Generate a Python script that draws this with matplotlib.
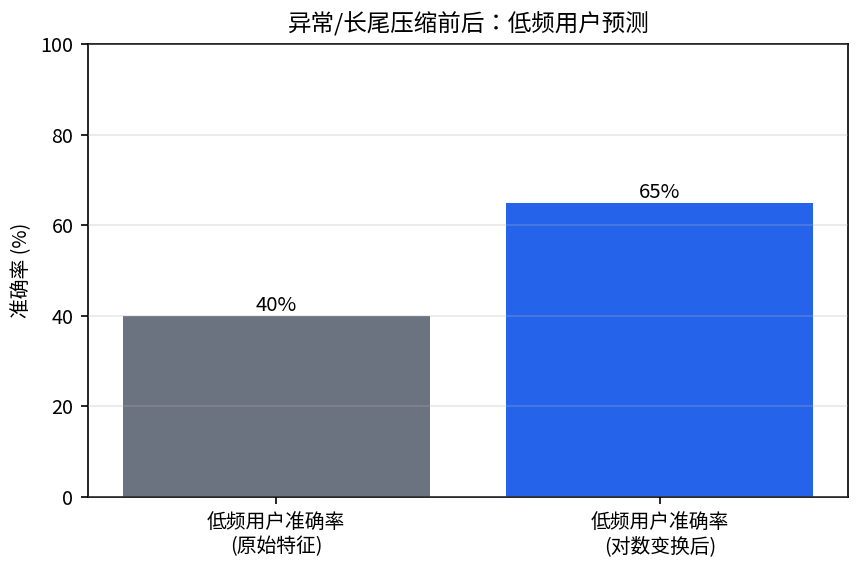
import matplotlib
matplotlib.use("Agg")
import matplotlib.pyplot as plt

plt.rcParams['font.family'] = ['Noto Sans CJK JP', 'DejaVu Sans']

categories = ['低频用户准确率\n(原始特征)', '低频用户准确率\n(对数变换后)']
values = [40, 65]
colors = ['#6b7280', '#2563eb']

fig, ax = plt.subplots(figsize=(862 / 150, 570 / 150), dpi=150)
bars = ax.bar(categories, values, color=colors, width=0.8)
for b, v in zip(bars, values):
    ax.text(b.get_x() + b.get_width() / 2, v, f'{v}%', ha='center', va='bottom', fontsize=9.8)

ax.set_ylim(0, 100)
ax.set_ylabel('准确率 (%)', fontsize=9.5)
ax.set_title('异常/长尾压缩前后：低频用户预测', fontsize=11.3)
ax.tick_params(labelsize=9.5)
ax.yaxis.grid(True, alpha=0.3)
ax.set_axisbelow(False)
fig.subplots_adjust(left=88 / 862, right=848 / 862, top=1 - 44 / 570, bottom=1 - 497 / 570)
fig.savefig('out.png')
